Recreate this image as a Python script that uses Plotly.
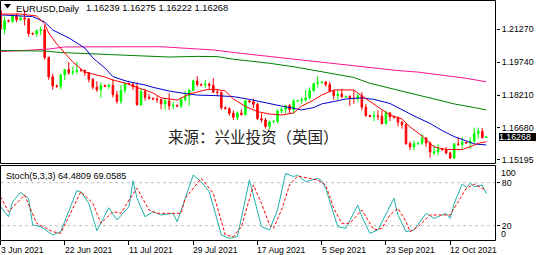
import plotly.graph_objects as go
import pandas as pd

W, H = 536, 255

# ---------------- data ----------------
dates = [d for d in pd.date_range("2021-06-03", "2021-10-22", freq="D") if d.weekday() != 5]

opens = [1.2213,1.2126,1.2167,1.2164,1.2190,1.2172,1.2180,1.2175,1.2107,1.2105,
         1.2120,1.2125,1.1996,1.1906,1.1864,1.1862,1.1915,1.1940,1.1925,1.1930,
         1.1936,1.1935,1.1925,1.1895,1.1858,1.1846,1.1865,1.1862,1.1866,1.1823,
         1.1792,1.1843,1.1875,1.1872,1.1860,1.1776,1.1838,1.1811,1.1806,1.1803,
         1.1800,1.1780,1.1794,1.1771,1.1773,1.1770,1.1801,1.1817,1.1843,1.1887,
         1.1870,1.1868,1.1872,1.1866,1.1835,1.1833,1.1762,1.1758,1.1737,1.1718,
         1.1738,1.1731,1.1794,1.1790,1.1778,1.1711,1.1705,1.1675,1.1697,1.1699,
         1.1747,1.1755,1.1772,1.1753,1.1794,1.1796,1.1799,1.1808,1.1841,1.1875,
         1.1880,1.1882,1.1870,1.1839,1.1819,1.1826,1.1813,1.1815,1.1808,1.1805,
         1.1818,1.1765,1.1726,1.1722,1.1725,1.1723,1.1688,1.1739,1.1720,1.1718,
         1.1695,1.1683,1.1595,1.1580,1.1595,1.1598,1.1621,1.1598,1.1550,1.1558,
         1.1572,1.1568,1.1552,1.1528,1.1594,1.1591,1.1602,1.1598,1.1607,1.1643,
         1.1653,1.16239]
highs = [1.2219,1.2185,1.2172,1.2196,1.2200,1.2190,1.2218,1.2180,1.2112,1.2127,
         1.2140,1.2146,1.2000,1.1920,1.1870,1.1920,1.1940,1.1975,1.1954,1.1975,
         1.1942,1.1940,1.1928,1.1900,1.1885,1.1880,1.1870,1.1875,1.1895,1.1840,
         1.1868,1.1880,1.1880,1.1880,1.1880,1.1850,1.1850,1.1825,1.1810,1.1815,
         1.1805,1.1805,1.1830,1.1790,1.1778,1.1810,1.1840,1.1850,1.1893,1.1909,
         1.1875,1.1892,1.1880,1.1900,1.1848,1.1838,1.1768,1.1765,1.1750,1.1745,
         1.1755,1.1800,1.1798,1.1805,1.1785,1.1735,1.1715,1.1702,1.1702,1.1755,
         1.1765,1.1775,1.1780,1.1802,1.1798,1.1810,1.1845,1.1857,1.1875,1.1909,
         1.1885,1.1885,1.1883,1.1845,1.1845,1.1850,1.1818,1.1820,1.1845,1.1830,
         1.1835,1.1780,1.1730,1.1745,1.1750,1.1750,1.1750,1.1740,1.1725,1.1720,
         1.1700,1.1690,1.1605,1.1610,1.1600,1.1640,1.1625,1.1605,1.1587,1.1593,
         1.1575,1.1580,1.1558,1.1600,1.1624,1.1625,1.1604,1.1625,1.1670,1.1669,
         1.1668,1.16275]
lows = [1.2104,1.2104,1.2160,1.2156,1.2160,1.2165,1.2145,1.2093,1.2100,1.2093,
        1.2100,1.1985,1.1892,1.1847,1.1855,1.1848,1.1890,1.1915,1.1915,1.1920,
        1.1930,1.1910,1.1880,1.1848,1.1836,1.1807,1.1858,1.1850,1.1810,1.1782,
        1.1780,1.1830,1.1868,1.1845,1.1772,1.1772,1.1795,1.1800,1.1798,1.1785,
        1.1755,1.1752,1.1752,1.1755,1.1765,1.1760,1.1790,1.1770,1.1840,1.1860,
        1.1862,1.1855,1.1850,1.1830,1.1818,1.1753,1.1755,1.1725,1.1705,1.1705,
        1.1725,1.1725,1.1785,1.1760,1.1705,1.1694,1.1665,1.1663,1.1690,1.1690,
        1.1735,1.1735,1.1735,1.1735,1.1788,1.1780,1.1790,1.1800,1.1835,1.1855,
        1.1875,1.1860,1.1835,1.1800,1.1800,1.1808,1.1808,1.1770,1.1780,1.1790,
        1.1750,1.1720,1.1718,1.1700,1.1705,1.1685,1.1685,1.1700,1.1712,1.1675,
        1.1665,1.1590,1.1565,1.1565,1.1588,1.1590,1.1580,1.1530,1.1545,1.1543,
        1.1562,1.1545,1.1524,1.1525,1.1586,1.1571,1.1595,1.1571,1.1598,1.1620,
        1.1618,1.16222]
closes = [1.2126,1.2167,1.2164,1.2190,1.2172,1.2180,1.2175,1.2107,1.2105,1.2120,
          1.2125,1.1996,1.1906,1.1864,1.1862,1.1915,1.1940,1.1925,1.1930,1.1936,
          1.1935,1.1925,1.1895,1.1858,1.1846,1.1865,1.1862,1.1866,1.1823,1.1792,
          1.1843,1.1875,1.1872,1.1860,1.1776,1.1838,1.1811,1.1806,1.1803,1.1800,
          1.1780,1.1794,1.1771,1.1773,1.1770,1.1801,1.1817,1.1843,1.1887,1.1870,
          1.1868,1.1872,1.1866,1.1835,1.1833,1.1762,1.1758,1.1737,1.1718,1.1738,
          1.1731,1.1794,1.1790,1.1778,1.1711,1.1705,1.1675,1.1697,1.1699,1.1747,
          1.1755,1.1772,1.1753,1.1794,1.1796,1.1799,1.1808,1.1841,1.1875,1.1880,
          1.1882,1.1870,1.1839,1.1819,1.1826,1.1813,1.1815,1.1808,1.1805,1.1818,
          1.1765,1.1726,1.1722,1.1725,1.1723,1.1688,1.1739,1.1720,1.1718,1.1695,
          1.1683,1.1595,1.1580,1.1595,1.1598,1.1621,1.1598,1.1556,1.1558,1.1572,
          1.1568,1.1552,1.1528,1.1594,1.1591,1.1602,1.1598,1.1607,1.1643,1.1653,
          1.1623,1.16268]

# moving averages (at sample bars)
ma_red_idx = [0,5,9,11,12,14,16,18,21,26,28,31,33,35,38,40,44,47,51,53,
              56,58,61,64,67,70,73,75,78,80,83,88,90,94,97,100,102,105,108,111,
              115,117,119,121]
ma_red = [1.2198,1.2198,1.2189,1.2152,1.2110,1.2059,1.2017,1.1975,1.1928,1.1905,
          1.1891,1.1877,1.1863,1.1849,1.1831,1.1808,1.1798,1.1826,1.1845,1.1849,
          1.1840,1.1803,1.1768,1.1744,1.1733,1.1728,1.1738,1.1770,1.1798,1.1821,
          1.1845,1.1845,1.1817,1.1766,1.1728,1.1710,1.1673,1.1631,1.1580,1.1568,
          1.1568,1.1581,1.1597,1.1604]
ma_blue_idx = [0,8,11,13,17,21,23,26,28,31,33,36,38,42,45,49,53,58,62,67,
               70,73,75,78,80,83,86,90,93,97,100,103,107,110,113,116,118,121]
ma_blue = [1.2194,1.2186,1.2161,1.2124,1.2087,1.2040,1.1994,1.1947,1.1907,1.1888,
           1.1879,1.1868,1.1857,1.1840,1.1831,1.1821,1.1819,1.1814,1.1801,1.1780,
           1.1770,1.1760,1.1752,1.1763,1.1780,1.1791,1.1803,1.1808,1.1801,1.1782,
           1.1752,1.1724,1.1689,1.1656,1.1628,1.1608,1.1594,1.1589]
ma_green_idx = [0,11,15,23,33,42,49,54,58,62,67,73,79,83,88,92,97,103,108,113,118,121]
ma_green = [1.2028,1.2026,1.2019,1.2012,1.2005,1.1998,1.2001,1.2000,1.1988,1.1980,
            1.1969,1.1953,1.1933,1.1918,1.1903,1.1876,1.1853,1.1825,1.1801,1.1780,
            1.1763,1.1752]
ma_pink_idx = [0,5,12,16,40,46,53,60,66,74,83,91,99,104,110,116,121]
ma_pink = [1.2023,1.2028,1.2035,1.2045,1.2046,1.2039,1.2031,1.2015,1.2003,1.1984,
           1.1969,1.1953,1.1935,1.1928,1.1915,1.1899,1.1883]

# stochastic (5,3,3)
stoch_k_idx = [0,2,3,5,7,8,10,13,15,16,19,20,22,24,27,29,32,33,34,36,
               38,40,43,44,48,50,52,55,57,59,62,65,67,69,71,73,74,76,79,80,
               81,84,86,89,90,92,94,98,99,101,103,106,108,111,112,113,115,116,117,118,
               120,121]
stoch_k = [46.5,32.5,53.4,66.5,58,21,18.6,7,11.6,25.5,68.8,67.4,51.2,13,45,27.9,46.5,82.7,58.2,32.5,
           39.5,34.9,37.2,25.5,90.7,81.3,67.4,7,2.3,4.6,83.7,18.6,14,41.9,93,88.4,90.7,81.3,86,82.7,
           72.1,18.6,16.3,48.8,32.5,9.3,14,58.2,34.9,11.6,14,37.2,30.2,37.2,30.2,51.2,78.1,73.5,79.1,74.4,
           76.7,64.4809]
stoch_d_idx = [0,2,6,9,13,15,17,20,23,25,28,30,32,34,37,39,45,46,50,53,
               56,58,60,63,65,67,68,70,72,74,77,79,81,83,85,87,90,91,93,95,
               97,99,101,102,104,107,109,112,113,116,118,120,121]
stoch_d = [60.4,39.5,62.8,23.3,11.6,9.3,32.5,67.4,51.2,23.3,39.5,37.2,55.8,72.1,41.9,37.2,37.2,58.2,86,65.1,
           7,4.6,18.6,76.7,51.2,21,16.3,41.9,76.7,89.3,86,83.7,76.7,44.2,23.3,23.3,41.9,32.5,14,16.3,
           34.9,44.2,25.5,11.6,18.6,34.9,34.9,34.9,44.2,72.1,78.1,72.1,69.0585]
stoch_levels = [80, 20]

price_ticks = [1.21270, 1.19740, 1.18210, 1.16680, 1.15195]
date_tick_idx = [0, 16, 32, 48, 64, 80, 96, 112]

# ---------------- layout helpers ----------------
bars = list(range(len(dates)))
BARPX = 4.015
PLOT_W = 496
x0 = -0.5 / BARPX
x1 = x0 + PLOT_W / BARPX

def px(x):
    return x / W

def py(y):
    return 1 - y / H

PX_PER_UNIT = 2150.0
P_TOP = 1.22633
main_range = [P_TOP - 164 / PX_PER_UNIT, P_TOP]

FONT = "Liberation Sans, Arial, sans-serif"
AX = 8.8

fig = go.Figure()
fig.add_trace(go.Candlestick(
    x=bars, open=opens, high=highs, low=lows, close=closes,
    increasing=dict(line=dict(color="#00FF00", width=1), fillcolor="#00FF00"),
    decreasing=dict(line=dict(color="#FF0000", width=1), fillcolor="#FF0000"),
    whiskerwidth=0, xaxis="x", yaxis="y", hoverinfo="skip"))

for ix, vals, col in [(ma_pink_idx, ma_pink, "#FF1493"), (ma_green_idx, ma_green, "#008000"),
                      (ma_blue_idx, ma_blue, "#0000CC"), (ma_red_idx, ma_red, "#FF0000")]:
    fig.add_trace(go.Scatter(x=ix, y=vals, mode="lines", line=dict(color=col, width=1),
                             xaxis="x", yaxis="y", hoverinfo="skip"))

fig.add_trace(go.Scatter(x=stoch_k_idx, y=stoch_k, mode="lines",
                         line=dict(color="#20B2AA", width=1), xaxis="x", yaxis="y2", hoverinfo="skip"))
fig.add_trace(go.Scatter(x=stoch_d_idx, y=stoch_d, mode="lines",
                         line=dict(color="#FF0000", width=1, dash="3px,2px"), xaxis="x", yaxis="y2", hoverinfo="skip"))

shapes = [
    dict(type="rect", xref="paper", yref="paper", x0=px(0.5), x1=px(495.5), y0=py(163.5), y1=py(0.5),
         line=dict(color="black", width=1), fillcolor="rgba(0,0,0,0)", layer="above"),
    dict(type="rect", xref="paper", yref="paper", x0=px(0.5), x1=px(495.5), y0=py(240.5), y1=py(165.5),
         line=dict(color="black", width=1), fillcolor="rgba(0,0,0,0)", layer="above"),
    dict(type="path", xref="paper", yref="paper",
         path=f"M {px(4)},{py(4)} L {px(11)},{py(4)} L {px(7.5)},{py(8.5)} Z",
         fillcolor="black", line=dict(color="black", width=0)),
]
for lv in stoch_levels:
    shapes.append(dict(type="line", xref="paper", yref="y2", x0=px(1), x1=px(495), y0=lv, y1=lv,
                       line=dict(color="#C0C0C0", width=1, dash="3px,3px"), layer="below"))

annotations = [
    dict(text="EURUSD,Daily", x=px(16), y=py(8), xref="paper", yref="paper", xanchor="left", yanchor="middle",
         showarrow=False, font=dict(family=FONT, size=9.4, color="black"), borderpad=0, borderwidth=0),
    dict(text=" ".join(f"{v:.5f}" for v in (opens[-1], highs[-1], lows[-1], closes[-1])),
         x=px(85.5), y=py(8), xref="paper", yref="paper", xanchor="left", yanchor="middle",
         showarrow=False, font=dict(family=FONT, size=9.3, color="black"), borderpad=0, borderwidth=0),
    dict(text=f"Stoch(5,3,3) {stoch_k[-1]:.4f} {stoch_d[-1]:.4f}", x=px(5.5), y=py(175.5), xref="paper", yref="paper",
         xanchor="left", yanchor="middle", showarrow=False, font=dict(family=FONT, size=9.1, color="black"),
         borderpad=0, borderwidth=0),
    dict(text="来源：兴业投资（英国）", x=px(253), y=py(136), xref="paper", yref="paper",
         xanchor="center", yanchor="middle", showarrow=False,
         font=dict(family="Noto Sans CJK SC", size=15.5, color="#222222"), borderpad=0, borderwidth=0),
    dict(text=f"{closes[-1]:.5f}", x=px(499), y=closes[-1], xref="paper", yref="y", xanchor="left",
         yanchor="middle", showarrow=False, bgcolor="black", width=37, height=8, align="left",
         font=dict(family=FONT, size=AX, color="white"), borderpad=0, borderwidth=0),
    dict(text="100", x=px(500.5), y=py(173.0), xref="paper", yref="paper", xanchor="left", yanchor="middle",
         showarrow=False, font=dict(family=FONT, size=AX, color="black"), borderpad=0, borderwidth=0),
    dict(text="0", x=px(500.5), y=py(234.0), xref="paper", yref="paper", xanchor="left", yanchor="middle",
         showarrow=False, font=dict(family=FONT, size=AX, color="black"), borderpad=0, borderwidth=0),
]
for i in date_tick_idx:
    d = dates[i]
    annotations.append(dict(text=f"{d.day} {d.strftime('%b %Y')}", x=i, y=py(249.5), xref="x", yref="paper",
                            xanchor="left", yanchor="middle", showarrow=False,
                            font=dict(family=FONT, size=8.6, color="black"), borderpad=0, borderwidth=0))

fig.update_layout(
    width=W, height=H, margin=dict(l=0, r=0, t=0, b=0),
    paper_bgcolor="white", plot_bgcolor="white", showlegend=False, boxgap=0.45,
    xaxis=dict(domain=[0, PLOT_W / W], range=[x0, x1], anchor="y2", showgrid=False, zeroline=False,
               showline=False, ticks="outside", ticklen=4, tickcolor="black", tickvals=date_tick_idx,
               showticklabels=False, rangeslider=dict(visible=False), fixedrange=True),
    yaxis=dict(domain=[py(164), 1], range=main_range, side="right", anchor="x", tickvals=price_ticks,
               ticktext=[f"{v:.5f}" for v in price_ticks], ticks="outside", ticklen=3, tickcolor="black",
               showgrid=False, zeroline=False, showline=False,
               tickfont=dict(family=FONT, size=AX, color="black"), fixedrange=True),
    yaxis2=dict(domain=[py(240), py(165)], range=[0, 75 / 0.7167], side="right", anchor="x",
                tickvals=stoch_levels, ticktext=[str(v) for v in stoch_levels], ticks="outside", ticklen=3,
                tickcolor="black", showgrid=False, zeroline=False, showline=False,
                tickfont=dict(family=FONT, size=AX, color="black"), fixedrange=True),
    shapes=shapes, annotations=annotations,
)

fig.write_html("out.html")
